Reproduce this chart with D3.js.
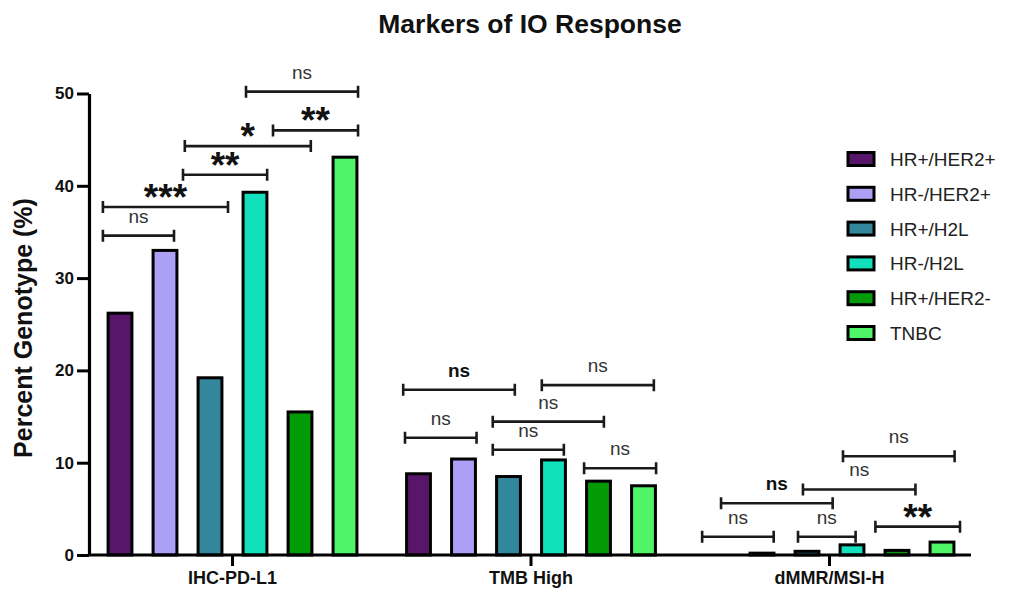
<!DOCTYPE html>
<html>
<head>
<meta charset="utf-8">
<script src="https://cdn.jsdelivr.net/npm/d3@7"></script>
<style>
  html, body { margin: 0; padding: 0; background: #fff; }
  svg { display: block; font-family: "Liberation Sans", Arial, Helvetica, sans-serif; }
</style>
</head>
<body>
<svg id="chart" width="1025" height="592"></svg>
<script>
// Marker groups on the x axis
const markers = ["IHC-PD-L1", "TMB High", "dMMR/MSI-H"];
// Breast cancer subtypes (one bar per subtype inside each marker group)
const subtypes = ["HR+/HER2+", "HR-/HER2+", "HR+/H2L", "HR-/H2L", "HR+/HER2-", "TNBC"];
const subtypeColors = ["#58166a", "#ac9ff6", "#33879c", "#12e0bd", "#039a08", "#4ff566"];

// Percent genotype per subtype, one array per marker
const pdl1Values = [26.2, 33.0, 19.2, 39.3, 15.5, 43.1];
const tmbValues  = [8.8, 10.4, 8.5, 10.3, 8.0, 7.5];
const dmmrValues = [0.0, 0.2, 0.4, 1.1, 0.5, 1.4];

const yTicks = [0, 10, 20, 30, 40, 50];

// Pairwise comparisons: marker, span in bar slots (0 = first subtype), height in %, label, bold
const comparisonMarker = ["IHC-PD-L1", "IHC-PD-L1", "IHC-PD-L1", "IHC-PD-L1", "IHC-PD-L1", "IHC-PD-L1",
                          "TMB High", "TMB High", "TMB High", "TMB High", "TMB High", "TMB High",
                          "dMMR/MSI-H", "dMMR/MSI-H", "dMMR/MSI-H", "dMMR/MSI-H", "dMMR/MSI-H", "dMMR/MSI-H"];
const comparisonFrom   = [-0.38, -0.38, 1.40, 1.44, 3.40, 2.80,
                          -0.34, 2.74, 1.65, -0.30, 1.65, 3.68,
                          -0.33, 0.09, 1.80, 1.91, 2.80, 3.52];
const comparisonTo     = [1.20, 2.40, 3.27, 4.24, 5.29, 5.29,
                          2.14, 5.23, 4.12, 1.29, 3.23, 5.28,
                          1.26, 2.57, 3.08, 4.41, 5.28, 5.40];
const comparisonLevel  = [34.6, 37.7, 41.2, 44.3, 46.0, 50.2,
                          17.9, 18.4, 14.45, 12.7, 11.4, 9.4,
                          1.98, 5.6, 1.98, 7.1, 10.7, 3.07];
const comparisonLabel  = ["ns", "***", "**", "*", "**", "ns",
                          "ns", "ns", "ns", "ns", "ns", "ns",
                          "ns", "ns", "ns", "ns", "ns", "**"];
const comparisonBold   = [false, false, false, false, false, false,
                          true, false, false, false, false, false,
                          false, true, false, false, false, false];

const seriesValues = [pdl1Values, tmbValues, dmmrValues];

const svg = d3.select("#chart");

// Scales
const x0 = d3.scaleBand().domain(markers).range([83.25, 978.75]).paddingInner(0).paddingOuter(0);
const x1 = d3.scaleBand().domain(subtypes).range([14.25, 284.25]).paddingInner(0.47).paddingOuter(0.235);
const slot = d3.scaleLinear().domain([0, 5]).range([
  x1(subtypes[0]) + x1.bandwidth() / 2,
  x1(subtypes[5]) + x1.bandwidth() / 2
]);
const y = d3.scaleLinear().domain([0, 50]).range([555, 93.5]);
const color = d3.scaleOrdinal().domain(subtypes).range(subtypeColors);

// Title
svg.append("text")
  .attr("x", 530).attr("y", 33)
  .attr("text-anchor", "middle")
  .attr("font-size", 26.5).attr("font-weight", "bold")
  .attr("fill", "#111")
  .text("Markers of IO Response");

// Y axis title
svg.append("text")
  .attr("transform", "translate(32,328) rotate(-90)")
  .attr("text-anchor", "middle")
  .attr("font-size", 25).attr("font-weight", "bold")
  .attr("fill", "#111")
  .text("Percent Genotype (%)");

// Bars
const groups = svg.append("g").selectAll("g")
  .data(markers)
  .join("g")
  .attr("transform", d => `translate(${x0(d)},0)`);

groups.selectAll("rect")
  .data((m, gi) => subtypes.map((s, si) => ({ subtype: s, value: seriesValues[gi][si] })))
  .join("rect")
  .attr("x", d => x1(d.subtype))
  .attr("width", x1.bandwidth())
  .attr("y", d => y(d.value))
  .attr("height", d => y(0) - y(d.value))
  .attr("fill", d => color(d.subtype))
  .attr("stroke", "#000")
  .attr("stroke-width", 3)
  .filter(d => d.value === 0).remove();

// Y axis
const yAxis = svg.append("g")
  .attr("transform", "translate(89,0)")
  .call(d3.axisLeft(y).tickValues(yTicks).tickSize(12).tickSizeOuter(0).tickPadding(3));
yAxis.select(".domain").attr("stroke", "#000").attr("stroke-width", 3.2);
yAxis.selectAll(".tick line").attr("stroke", "#000").attr("stroke-width", 3);
yAxis.selectAll(".tick text")
  .attr("font-size", 17).attr("font-weight", "bold").attr("fill", "#111")
  .attr("font-family", "'Liberation Sans', Arial, sans-serif");

// X axis
const xAxis = svg.append("g")
  .attr("transform", `translate(0,${y(0)})`)
  .call(d3.axisBottom(x0).tickSize(11).tickSizeOuter(0).tickPadding(5));
xAxis.select(".domain").attr("d", "M88,0H971").attr("stroke", "#000").attr("stroke-width", 3.2);
xAxis.selectAll(".tick line").attr("stroke", "#000").attr("stroke-width", 3);
xAxis.selectAll(".tick text")
  .attr("font-size", 18).attr("font-weight", "bold").attr("fill", "#111")
  .attr("font-family", "'Liberation Sans', Arial, sans-serif");

// Significance brackets
const comparisons = comparisonLabel.map((label, i) => ({
  marker: comparisonMarker[i],
  from: comparisonFrom[i],
  to: comparisonTo[i],
  level: comparisonLevel[i],
  label,
  bold: comparisonBold[i]
}));

const br = svg.append("g").selectAll("g")
  .data(comparisons)
  .join("g")
  .attr("transform", d => `translate(${x0(d.marker)},${y(d.level)})`);

br.append("path")
  .attr("d", d => {
    const a = slot(d.from), b = slot(d.to);
    return `M${a},-6V6M${a},0H${b}M${b},-6V6`;
  })
  .attr("fill", "none")
  .attr("stroke", "#1a1a1a")
  .attr("stroke-width", 2.6);

br.append("text")
  .attr("x", d => (slot(d.from) + slot(d.to)) / 2)
  .attr("y", d => d.label === "ns" ? -13 : 3)
  .attr("text-anchor", "middle")
  .attr("font-size", d => d.label === "ns" ? 19 : 37)
  .attr("font-weight", d => (d.bold || d.label !== "ns") ? "bold" : "normal")
  .attr("fill", d => d.label === "ns" && !d.bold ? "#333" : "#111")
  .text(d => d.label);

// Legend
const legend = svg.append("g").selectAll("g")
  .data(subtypes)
  .join("g")
  .attr("transform", (d, i) => `translate(848,${159 + i * 34.8})`);

legend.append("rect")
  .attr("x", 0).attr("y", -6.5)
  .attr("width", 26).attr("height", 13)
  .attr("fill", d => color(d))
  .attr("stroke", "#000").attr("stroke-width", 3);

legend.append("text")
  .attr("x", 42).attr("y", 7)
  .attr("font-size", 19)
  .attr("fill", "#222")
  .text(d => d);
</script>
</body>
</html>
